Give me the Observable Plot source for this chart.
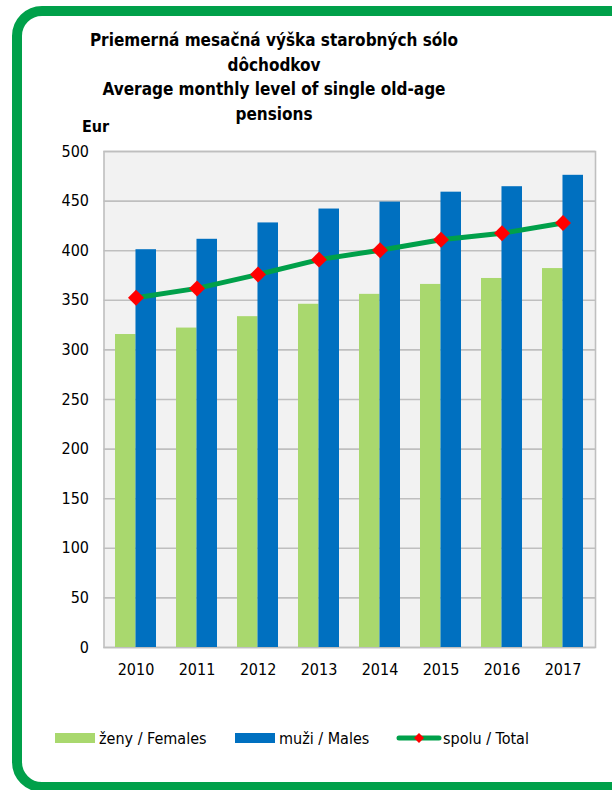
<!DOCTYPE html>
<html>
<head>
<meta charset="utf-8">
<script src="https://cdn.jsdelivr.net/npm/d3@7"></script>
<script src="https://cdn.jsdelivr.net/npm/@observablehq/plot@0.6"></script>
<style>
  html, body { margin: 0; padding: 0; background: #fff; }
  body { width: 612px; height: 790px; position: relative; overflow: hidden;
         font-family: "DejaVu Sans Condensed", "DejaVu Sans", sans-serif; font-stretch: condensed; }
  #frame { position: absolute; left: 12px; top: 6px; width: 660px; height: 786px;
           box-sizing: border-box; border: 10px solid #00A04A; border-radius: 30px; background: #fff; }
  #inner { position: absolute; left: 611px; top: 30px; width: 2px; height: 748px; background: #E6E6E6; }
  #title { position: absolute; left: 0; width: 548px; top: 28px; text-align: center;
           font-weight: bold; font-size: 17px; line-height: 24.5px; color: #000; }
  #eur { position: absolute; left: 82px; top: 117px; font-weight: bold; font-size: 16px; }
  #chart { position: absolute; left: 0; top: 120px; }
  #legend { position: absolute; top: 728px; left: 0; width: 612px; height: 20px; font-size: 16px; color: #000; }
  .li { position: absolute; top: 0; display: flex; align-items: center; height: 20px; }
  .sw { width: 40px; height: 10px; margin-right: 4px; }
</style>
</head>
<body>
<div id="frame"></div>
<div id="title">Priemerná mesačná výška starobných sólo<br>dôchodkov<br>Average monthly level of single old-age<br>pensions</div>
<div id="eur">Eur</div>
<div id="chart"></div>
<div id="legend"></div>
<script>
const years = ["2010", "2011", "2012", "2013", "2014", "2015", "2016", "2017"];
const females = [315.5, 322, 333.5, 346, 356, 366, 372, 382];
const males = [401, 411.5, 428, 442, 449, 459, 464.5, 476];
const total = [352.5, 362, 376, 391, 400.5, 411, 417.5, 428];
const yTicks = [0, 50, 100, 150, 200, 250, 300, 350, 400, 450, 500];
const seriesLabels = ["ženy / Females", "muži / Males", "spolu / Total"];
const colors = ["#A9D86E", "#0070C0", "#00A04A"];

const rows = years.map((y, i) => ({year: y, females: females[i], males: males[i], total: total[i]}));
const half = (612 - 103.5 - 17) / 8 * (1 - 1/3) / 2;

const chart = Plot.plot({
  width: 612,
  height: 580,
  marginLeft: 103.5,
  marginRight: 17,
  marginTop: 31,
  marginBottom: 53,
  style: {fontFamily: '"DejaVu Sans Condensed", "DejaVu Sans", sans-serif', fontSize: "16px", color: "#000", background: "transparent"},
  x: {domain: years, paddingInner: 1/3, paddingOuter: 1/6, label: null, tickSize: 0, tickPadding: 16},
  y: {domain: [0, 500], ticks: yTicks, label: null, tickSize: 0, tickPadding: 15},
  marks: [
    Plot.frame({fill: "#F2F2F2", stroke: null}),
    Plot.ruleY(yTicks, {stroke: "#BFBFBF", strokeWidth: 1.6}),
    Plot.frame({stroke: "#BFBFBF", strokeWidth: 1.6}),
    Plot.barY(rows, {x: "year", y: "females", fill: colors[0], insetRight: half}),
    Plot.barY(rows, {x: "year", y: "males", fill: colors[1], insetLeft: half}),
    Plot.line(rows, {x: "year", y: "total", stroke: colors[2], strokeWidth: 5}),
    Plot.dot(rows, {x: "year", y: "total", symbol: "diamond2", r: 7.2, fill: "#FF0000", stroke: null})
  ]
});
document.getElementById("chart").appendChild(chart);

const legend = document.getElementById("legend");
const lefts = [55, 235, 396];
seriesLabels.forEach((t, i) => {
  const d = document.createElement("div");
  d.className = "li";
  d.style.left = lefts[i] + "px";
  let sw;
  if (i < 2) {
    sw = `<div class="sw" style="background:${colors[i]}"></div>`;
  } else {
    sw = `<svg width="46" height="14" style="margin-right:1px"><line x1="3" y1="7" x2="43" y2="7" stroke="${colors[2]}" stroke-width="5" stroke-linecap="round"/><path d="M23 2 L28 7 L23 12 L18 7 Z" fill="#FF0000"/></svg>`;
  }
  d.innerHTML = sw + `<span>${t}</span>`;
  legend.appendChild(d);
});
</script>
</body>
</html>
